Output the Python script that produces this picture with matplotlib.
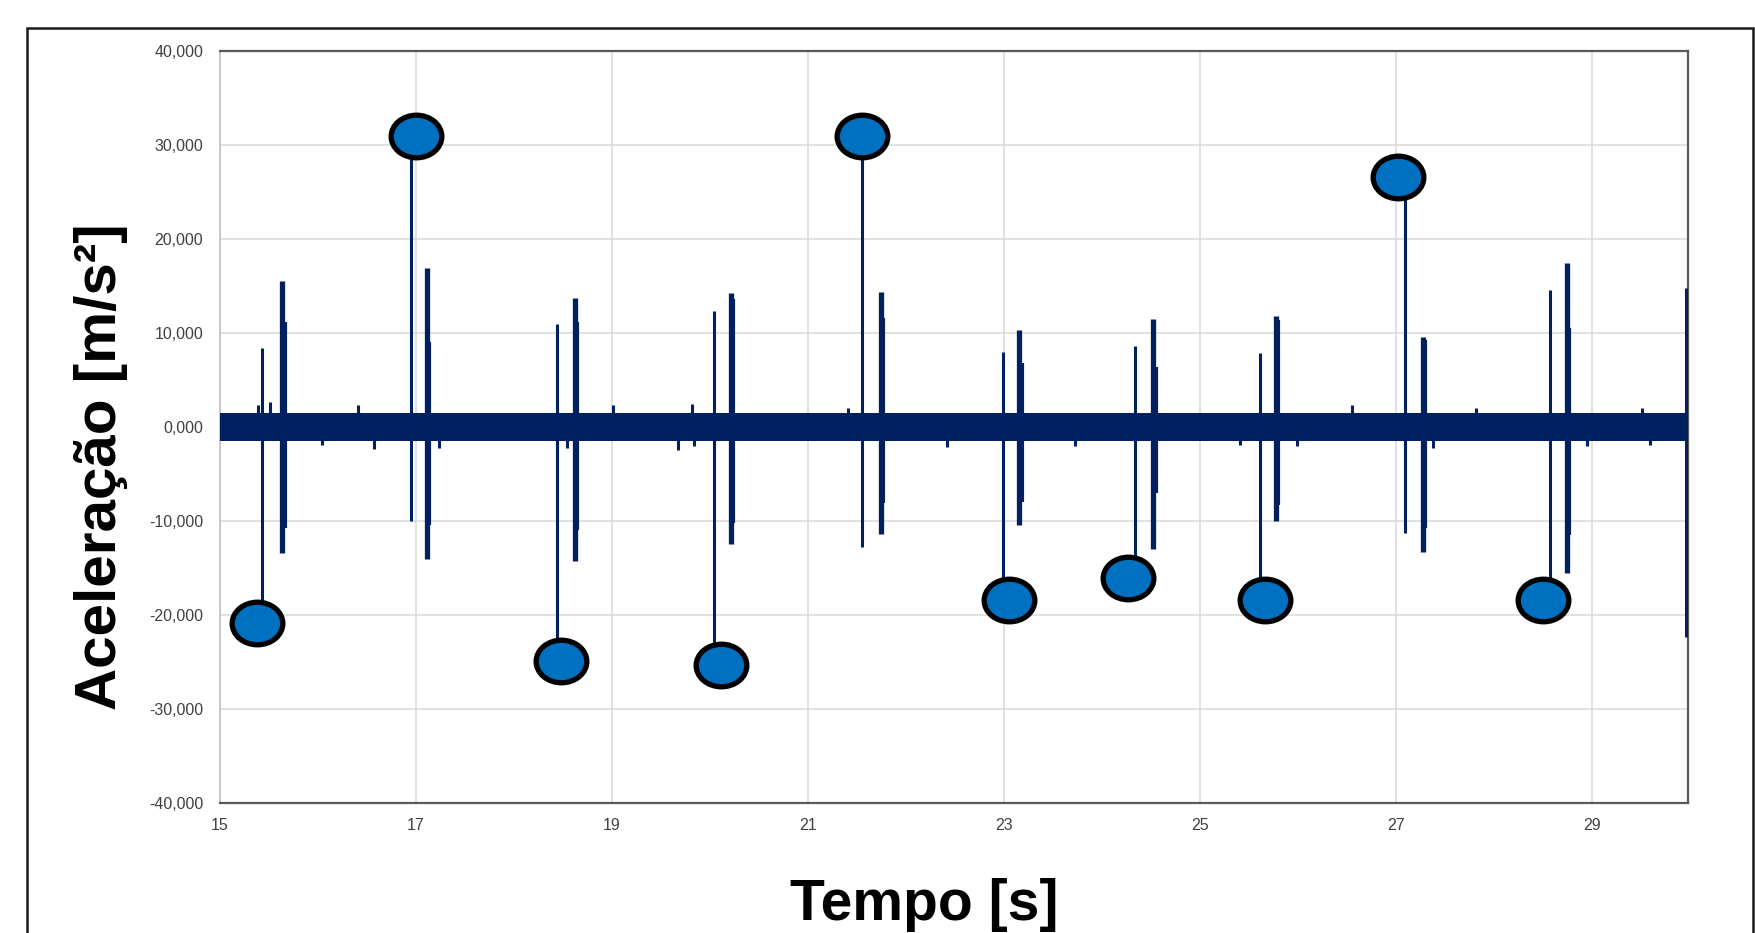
import numpy as np
import matplotlib
matplotlib.use("Agg")
import matplotlib.pyplot as plt
from matplotlib.path import Path
from matplotlib.transforms import Affine2D
from matplotlib.patches import Rectangle

plt.rcParams['font.family'] = ['Liberation Sans', 'DejaVu Sans']

# tempo [s] e aceleracao dos picos
primary_t = [15.43, 16.95, 18.44, 20.04, 21.55, 22.99, 24.34, 25.61, 27.09, 28.57, 29.96]
primary_max = [8440, 31000, 10920, 12370, 31000, 7950, 8650, 7840, 26600, 14540, 14760]
primary_min = [-21000, -10000, -25000, -25300, -12800, -18450, -16050, -18450, -11310, -18450, -22370]

secondary_t = [15.63, 17.11, 18.62, 20.21, 21.75, 23.15, 24.52, 25.78, 27.28, 28.75]
secondary_max = [15530, 16880, 13760, 14290, 14400, 10320, 11460, 11840, 9610, 17480]
secondary_min = [-13370, -14070, -14250, -12480, -11380, -10420, -12980, -10000, -13260, -15560]

tail_t = [15.66, 17.13, 18.64, 20.23, 21.77, 23.18, 24.55, 25.80, 27.30, 28.77]
tail_max = [11200, 9080, 11200, 13580, 11560, 6780, 6420, 11380, 9250, 10500]
tail_min = [-10700, -10400, -11000, -10250, -8120, -7950, -7050, -8300, -10780, -11490]

# faixa de ruido em torno de zero e pequenos picos fora dela
band_t = [15.0, 29.96]
band_hi = [1450, 1450]
band_lo = [-1450, -1450]
bump_t = [15.39, 15.51, 16.04, 16.41, 16.57, 17.23, 18.54, 19.01, 19.67, 19.82, 19.84,
          21.41, 22.42, 23.72, 25.41, 25.99, 26.55, 27.38, 27.82, 28.95, 29.51, 29.59]
bump_v = [2340, 2630, -1910, 2340, -2340, -2200, -2270, 2340, -2450, 2450, -2000,
          1990, -2160, -2000, -1910, -2000, 2340, -2270, 1990, -2000, 1990, -1900]

# marcadores (elipses azuis)
marker_t = [15.38, 17.0, 18.48, 20.11, 21.55, 23.05, 24.27, 25.66, 27.02, 28.50]
marker_v = [-20900, 31000, -24900, -25300, 31000, -18450, -16050, -18450, 26600, -18450]

xticks = [15, 17, 19, 21, 23, 25, 27, 29]
yticks = [-40000, -30000, -20000, -10000, 0, 10000, 20000, 30000, 40000]
ylabels = ['-40,000', '-30,000', '-20,000', '-10,000', '0,000', '10,000', '20,000', '30,000', '40,000']

navy = '#002060'

fig = plt.figure(figsize=(17.56, 9.33), dpi=100)
ax = fig.add_axes([220/1756, 1 - 803/933, (1688-220)/1756, (803-51)/933])

ax.fill_between(band_t, band_lo, band_hi, color=navy, lw=0, zorder=3)
ax.vlines(bump_t, 0, bump_v, color=navy, lw=2.2, zorder=3)
ax.vlines(primary_t, primary_min, primary_max, color=navy, lw=2.2, zorder=3)
ax.vlines(secondary_t, secondary_min, secondary_max, color=navy, lw=3.8, zorder=3)
ax.vlines(tail_t, tail_min, tail_max, color=navy, lw=3.0, zorder=3)

ell = Path.unit_circle().transformed(Affine2D().scale(1.0, 0.84))
ax.plot(marker_t, marker_v, ls='none', marker=ell, ms=36.5, mfc='#0070C0',
        mec='black', mew=3.8, zorder=5)

ax.set_xlim(15, 29.98)
ax.set_ylim(-40000, 40000)
ax.set_xticks(xticks)
ax.set_xticklabels([str(v) for v in xticks])
ax.set_yticks(yticks)
ax.set_yticklabels(ylabels)
ax.tick_params(length=0, labelsize=11.5, labelcolor='#404040')
ax.tick_params(axis='y', pad=12)
ax.tick_params(axis='x', pad=11)
ax.grid(True, color='#D9D9D9', lw=1.1, zorder=0)
ax.set_axisbelow(True)

for s in ['top', 'right', 'bottom']:
    ax.spines[s].set_color('#595959')
    ax.spines[s].set_linewidth(1.6)
ax.spines['left'].set_color('#BFBFBF')
ax.spines['left'].set_linewidth(1.2)

fig.text(101/1756, 1 - 467/933, 'Aceleração [m/s²]', rotation=90, fontsize=42,
         fontweight='bold', ha='center', va='center')
fig.text(924/1756, 1 - 905/933, 'Tempo [s]', fontsize=41, fontweight='bold',
         ha='center', va='center')

# moldura externa
fig.patches.append(Rectangle((27/1756, -0.05), (1753-27)/1756, 1.05 - 28/933,
                             transform=fig.transFigure, fill=False,
                             ec='#1a1a1a', lw=1.8))

fig.savefig('out.png', dpi=100)
